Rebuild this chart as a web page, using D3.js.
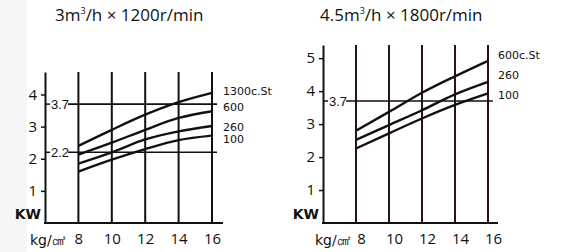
<!DOCTYPE html>
<html>
<head>
<meta charset="utf-8">
<script src="https://cdn.jsdelivr.net/npm/d3@7"></script>
<style>
  body { margin: 0; background: #fff; }
  svg { display: block; }
  .title { font-family: "Open Sans", sans-serif; font-size: 17px; fill: #111; }
  .tick text { font-family: "Open Sans", "DejaVu Sans", sans-serif; fill: #111; }
  .curve-label { font-family: "DejaVu Sans", sans-serif; font-size: 11px; fill: #111; }
  .ref-label { font-family: "Liberation Sans Narrow", "Liberation Sans", sans-serif; font-size: 13px; fill: #111; }
  .unit { font-family: "DejaVu Sans", sans-serif; fill: #111; }
</style>
</head>
<body>
<div id="vis"></div>
<script>
// chart size
const FRAME_WIDTH = 563;
const FRAME_HEIGHT = 252;

// pressure (kg/cm2) on the x axis
const PRESSURE = [8, 10, 12, 14, 16];

// left panel: 3 m3/h x 1200 r/min
const LEFT_VISC = ["1300c.St", "600", "260", "100"];
const LEFT_1300 = [2.40, 2.90, 3.37, 3.76, 4.05];
const LEFT_600  = [2.13, 2.50, 2.90, 3.27, 3.48];
const LEFT_260  = [1.85, 2.20, 2.60, 2.85, 3.02];
const LEFT_100  = [1.60, 1.97, 2.30, 2.58, 2.72];
const LEFT_Y_TICKS = [1, 2, 3, 4];
const LEFT_REFS = [3.7, 2.2];

// right panel: 4.5 m3/h x 1800 r/min
const RIGHT_VISC = ["600c.St", "260", "100"];
const RIGHT_600 = [2.80, 3.37, 3.95, 4.45, 4.92];
const RIGHT_260 = [2.52, 2.97, 3.42, 3.90, 4.28];
const RIGHT_100 = [2.26, 2.72, 3.17, 3.58, 3.93];
const RIGHT_Y_TICKS = [1, 2, 3, 4, 5];
const RIGHT_REFS = [3.7];

const SVG = d3.select("#vis")
  .append("svg")
    .attr("width", FRAME_WIDTH)
    .attr("height", FRAME_HEIGHT);

// faint grey strip on the far left of the scan
SVG.append("rect")
  .attr("x", 0).attr("y", 0)
  .attr("width", 27).attr("height", FRAME_HEIGHT)
  .attr("fill", "#f6f6f6");

function drawPanel(p) {
  const X = d3.scaleLinear().domain([6, 16]).range([p.left, p.right]);
  const Y = d3.scaleLinear().domain([0, p.yMax]).range([p.bottom, p.top]);
  const g = SVG.append("g");

  // title
  const title = g.append("text")
    .attr("class", "title")
    .attr("x", p.titleX).attr("y", 21)
    .text(p.titleA);
  title.append("tspan").attr("dy", -7).attr("font-size", 9).text("3");
  title.append("tspan").attr("dy", 7).text(p.titleB);

  // vertical grid lines
  g.selectAll(".vgrid")
    .data(PRESSURE)
    .enter()
    .append("line")
      .attr("x1", (d) => X(d)).attr("x2", (d) => X(d))
      .attr("y1", Y(0)).attr("y2", Y(p.yMax))
      .attr("stroke", p.gridColor)
      .attr("stroke-width", 2);

  // y axis
  const yAxis = g.append("g")
    .attr("transform", "translate(" + p.left + ",0)")
    .call(d3.axisLeft(Y).tickValues(p.yTicks).tickFormat(d3.format("d"))
      .tickSize(4).tickSizeOuter(0).tickPadding(4));
  yAxis.select(".domain").attr("stroke", "#111").attr("stroke-width", 2);
  yAxis.selectAll(".tick line").attr("stroke", "#111").attr("stroke-width", 1.5);
  yAxis.selectAll(".tick text").attr("font-size", 15);

  // x axis
  g.append("line")
    .attr("x1", p.left - 1).attr("x2", p.axisEnd)
    .attr("y1", Y(0)).attr("y2", Y(0))
    .attr("stroke", "#111").attr("stroke-width", 2);
  const xAxis = g.append("g")
    .attr("transform", "translate(" + p.xLabelShift + "," + Y(0) + ")")
    .call(d3.axisBottom(X).tickValues(PRESSURE).tickSize(0).tickPadding(10));
  xAxis.select(".domain").remove();
  xAxis.selectAll(".tick text").attr("font-size", 15);

  // reference lines (3.7, 2.2)
  p.refs.forEach((r) => {
    g.append("line")
      .attr("x1", p.left).attr("x2", p.left + 5)
      .attr("y1", Y(r)).attr("y2", Y(r))
      .attr("stroke", "#111").attr("stroke-width", 1.5);
    g.append("text")
      .attr("class", "ref-label")
      .attr("x", p.left + 6).attr("y", Y(r))
      .attr("dy", "0.36em")
      .text(r.toFixed(1));
    g.append("line")
      .attr("x1", p.left + 23).attr("x2", X(16.3))
      .attr("y1", Y(r)).attr("y2", Y(r))
      .attr("stroke", "#111").attr("stroke-width", 1.6);
  });

  // power curves
  const LINE = d3.line()
    .x((d, i) => X(PRESSURE[i]))
    .y((d) => Y(d))
    .curve(d3.curveMonotoneX);
  g.selectAll(".curve")
    .data(p.series)
    .enter()
    .append("path")
      .attr("d", (d) => LINE(d))
      .attr("fill", "none")
      .attr("stroke", "#111")
      .attr("stroke-width", 2.4);

  // curve labels
  g.selectAll(".curve-label")
    .data(p.names)
    .enter()
    .append("text")
      .attr("class", "curve-label")
      .attr("x", p.labelX)
      .attr("y", (d, i) => p.labelY[i])
      .attr("dy", "0.36em")
      .text((d) => d);

  // units
  g.append("text")
    .attr("class", "unit")
    .attr("x", p.left - 4).attr("y", Y(0) - 9)
    .attr("dy", "0.36em")
    .attr("text-anchor", "end")
    .attr("font-size", 14).attr("font-weight", "bold")
    .text("KW");
  g.append("text")
    .attr("class", "unit")
    .attr("x", p.left + p.unitShift).attr("y", Y(0) + 17)
    .attr("dy", "0.36em")
    .attr("font-size", 14)
    .text("kg/㎠");
}

drawPanel({
  left: 45, right: 212, top: 72, bottom: 223, yMax: 4.7, axisEnd: 223,
  titleX: 55, titleA: "3m", titleB: "/h × 1200r/min",
  yTicks: LEFT_Y_TICKS, refs: LEFT_REFS,
  series: [LEFT_1300, LEFT_600, LEFT_260, LEFT_100], names: LEFT_VISC,
  labelX: 223, labelY: [91, 107, 127, 139],
  xLabelShift: 0, unitShift: -15, gridColor: "#111"
});

drawPanel({
  left: 323, right: 488, top: 45, bottom: 223, yMax: 5.4, axisEnd: 498,
  titleX: 320, titleA: "4.5m", titleB: "/h × 1800r/min",
  yTicks: RIGHT_Y_TICKS, refs: RIGHT_REFS,
  series: [RIGHT_600, RIGHT_260, RIGHT_100], names: RIGHT_VISC,
  labelX: 498, labelY: [55, 75, 95],
  xLabelShift: 5, unitShift: -8, gridColor: "#2a1414"
});
</script>
</body>
</html>
